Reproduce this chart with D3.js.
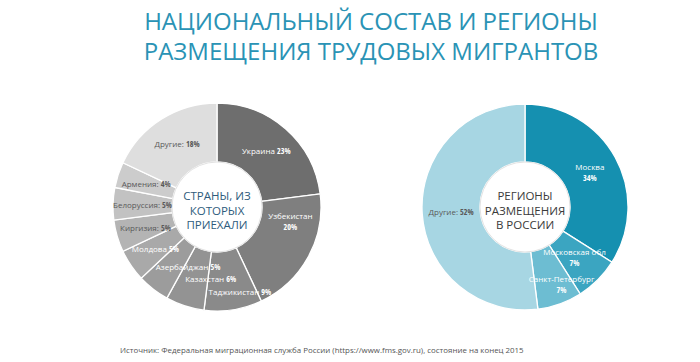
<!DOCTYPE html>
<html>
<head>
<meta charset="utf-8">
<script src="https://cdn.jsdelivr.net/npm/d3@7"></script>
<style>
  body { margin: 0; background: #fff; }
  svg { display: block; font-family: "Open Sans", sans-serif; }
</style>
</head>
<body>
<div id="vis"></div>
<script>
// data
var countries = ["Украина", "Узбекистан", "Таджикистан", "Казахстан", "Азербайджан",
                 "Молдова", "Киргизия", "Белоруссия", "Армения", "Другие"];
var countryShares = [23, 20, 9, 6, 5, 5, 5, 5, 4, 18];
var countrySep = [" ", "\n", " ", " ", " ", " ", ": ", ": ", ": ", ": "];

var regions = ["Москва", "Московская обл", "Санкт-Петербург", "Другие"];
var regionShares = [34, 7, 7, 52];
var regionSep = ["\n", "\n", "\n", ": "];

var greys = ["#6e6e6e", "#7f7f7f", "#8a8a8a", "#939393", "#9c9c9c",
             "#a9a9a9", "#b4b4b4", "#c2c2c2", "#cccccc", "#dedede"];
var blues = ["#1590b0", "#3ba5c1", "#6dbdd2", "#a7d6e3"];

// small label nudges (degrees, radius px) where the picture moves labels off the centroid
var countryNudge = [[0, 0], [-19, 0], [-6, 14], [-13, -2], [-12, -8], [0, 0], [0, 0], [0, 0], [0, 0], [0, 0]];
var regionNudge = [[0, 0], [0, -4], [-6, 10], [0, 0]];

var W = 700, H = 362;
var svg = d3.select("#vis").append("svg").attr("width", W).attr("height", H);

/* title */
var title = svg.append("text")
    .attr("x", 371)
    .attr("text-anchor", "middle")
    .attr("fill", "#2a93b5")
    .style("font-size", "24px");
title.append("tspan").attr("x", 371).attr("y", 30).text("НАЦИОНАЛЬНЫЙ СОСТАВ И РЕГИОНЫ");
title.append("tspan").attr("x", 371).attr("y", 60).text("РАЗМЕЩЕНИЯ ТРУДОВЫХ МИГРАНТОВ");

function drawDonut(cx, cy, rOuter, rInner, names, values, seps, colors, nudges, lightLabels, centerLines, centerColor) {
    var g = svg.append("g").attr("transform", "translate(" + cx + "," + cy + ")");

    var pie = d3.pie().sort(null).value(function(d) { return d.v; });
    var arc = d3.arc().innerRadius(rInner).outerRadius(rOuter);
    var rows = names.map(function(n, i) { return {name: n, v: values[i], i: i}; });
    var arcs = pie(rows);

    g.selectAll("path.slice")
        .data(arcs)
        .enter()
        .append("path")
        .attr("class", "slice")
        .attr("d", arc)
        .attr("fill", function(d) { return colors[d.data.i]; })
        .attr("stroke", "#fff")
        .attr("stroke-width", 1.3);

    /* inner white disc */
    g.append("circle")
        .attr("r", rInner)
        .attr("fill", "#fff")
        .attr("stroke", "#e2e2e2")
        .attr("stroke-width", 1);

    /* slice labels */
    var midR = (rInner + rOuter) / 2;
    arcs.forEach(function(d) {
        var i = d.data.i;
        var a = (d.startAngle + d.endAngle) / 2 + nudges[i][0] * Math.PI / 180;
        var r = midR + nudges[i][1];
        var x = r * Math.sin(a), y = -r * Math.cos(a);
        var col = lightLabels[i] ? "#fff" : "#595959";
        var pct = d.data.v + "%";
        var t = g.append("text")
            .attr("text-anchor", "middle")
            .attr("fill", col)
            .style("font-size", "8px");
        if (seps[i] === "\n") {
            t.append("tspan").attr("x", x).attr("y", y - 1).text(d.data.name);
            t.append("tspan").attr("x", x).attr("y", y + 10)
                .style("font-weight", "bold").style("font-stretch", "condensed").text(pct);
        } else {
            t.attr("x", x).attr("y", y + 3);
            t.append("tspan").text(d.data.name + seps[i]);
            t.append("tspan").style("font-weight", "bold").style("font-stretch", "condensed").text(pct);
        }
    });

    /* centre caption */
    var c = g.append("text")
        .attr("text-anchor", "middle")
        .attr("fill", centerColor)
        .style("font-size", "11.5px");
    centerLines.forEach(function(line, k) {
        c.append("tspan").attr("x", 0).attr("y", -7 + k * 14.5).text(line);
    });
}

drawDonut(217, 207, 104, 45, countries, countryShares, countrySep, greys, countryNudge,
    [true, true, true, true, true, true, false, false, false, false],
    ["СТРАНЫ, ИЗ", "КОТОРЫХ", "ПРИЕХАЛИ"], "#2e5b7c");

drawDonut(525, 207, 103, 45, regions, regionShares, regionSep, blues, regionNudge,
    [true, true, true, false],
    ["РЕГИОНЫ", "РАЗМЕЩЕНИЯ", "В РОССИИ"], "#3a3a3a");

/* source note */
svg.append("text")
    .attr("x", 120)
    .attr("y", 353)
    .attr("fill", "#555")
    .style("font-size", "7.9px")
    .text("Источник: Федеральная миграционная служба России (https://www.fms.gov.ru), состояние на конец 2015");
</script>
</body>
</html>
